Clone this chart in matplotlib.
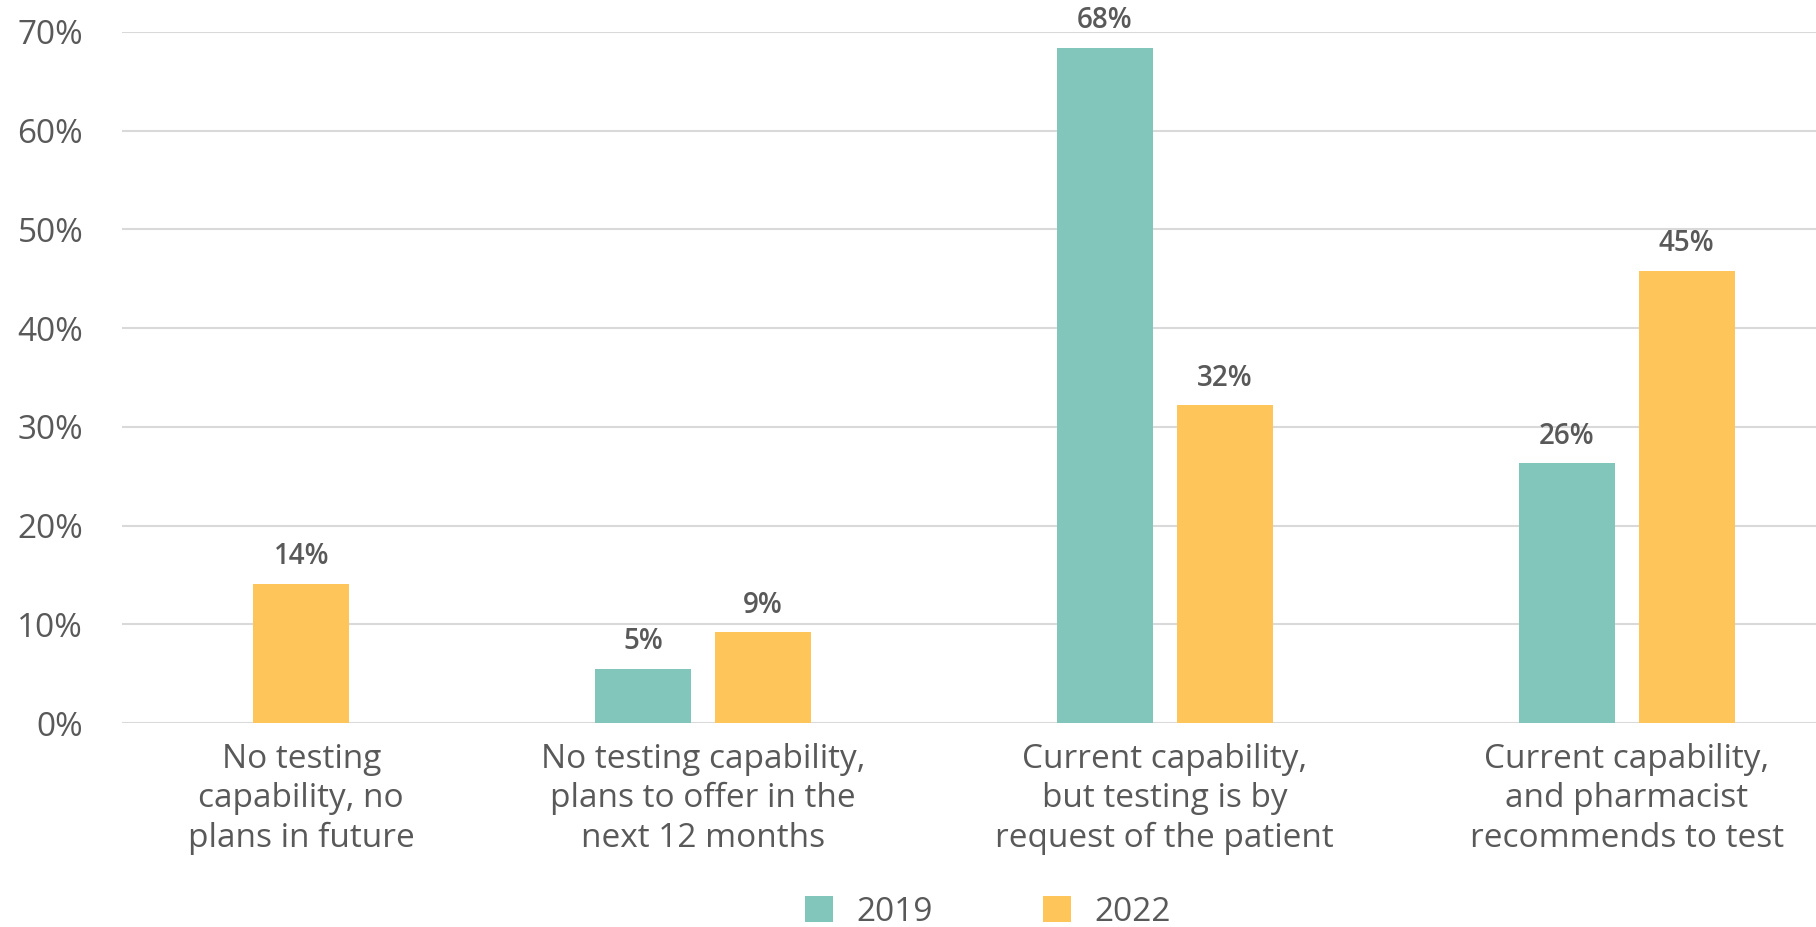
import numpy as np
import matplotlib.pyplot as plt

plt.rcParams['font.family'] = ['Open Sans', 'DejaVu Sans']

categories = [
    "No testing\ncapability, no\nplans in future",
    "No testing capability,\nplans to offer in the\nnext 12 months",
    "Current capability,\nbut testing is by\nrequest of the patient",
    "Current capability,\nand pharmacist\nrecommends to test",
]
series_names = ["2019", "2022"]
vals_2019 = [np.nan, 5.5, 68.4, 26.3]
vals_2022 = [14.1, 9.2, 32.2, 45.8]
labels_2019 = ["", "5%", "68%", "26%"]
labels_2022 = ["14%", "9%", "32%", "45%"]
yticks = [0, 10, 20, 30, 40, 50, 60, 70]

teal = "#82C5BB"
orange = "#FDC55A"
txt = "#595959"

fig = plt.figure(figsize=(18.16, 9.27), dpi=100)
ax = fig.add_axes([0.0672, 0.22, 0.9328, 0.7455])

x = np.arange(len(categories))
w = 0.208
off = 0.13

b1 = ax.bar(x - off, vals_2019, w, color=teal, label=series_names[0], zorder=3)
b2 = ax.bar(x + off, vals_2022, w, color=orange, label=series_names[1], zorder=3)

for bars, vals, labs in [(b1, vals_2019, labels_2019), (b2, vals_2022, labels_2022)]:
    for rect, v, lab in zip(bars, vals, labs):
        if np.isnan(v):
            continue
        ax.annotate(lab, (rect.get_x() + rect.get_width() / 2, v),
                    xytext=(0, 9), textcoords="offset points",
                    ha="center", va="bottom", fontsize=20, fontweight="semibold",
                    color=txt, annotation_clip=False)

ax.set_ylim(0, 70)
ax.set_xlim(-0.258, 3.41)
ax.set_yticks(yticks)
ax.set_yticklabels([f"{t}%" for t in yticks], fontsize=24, color=txt)
# first group has only the 2022 bar, its label sits under that bar
tick_pos = x.astype(float)
tick_pos[0] = x[0] + off
ax.set_xticks(tick_pos)
ax.set_xticklabels(categories, fontsize=24, color=txt, linespacing=1.26)
ax.tick_params(axis="y", length=0, pad=28)
ax.tick_params(axis="x", length=0, pad=14)
ax.grid(axis="y", color="#D9D9D9", linewidth=1.5, zorder=0)
for s in ax.spines.values():
    s.set_visible(False)

fig.legend(handles=[b1, b2], labels=series_names, loc="center",
           bbox_to_anchor=(0.544, 0.016), ncol=2, frameon=False,
           fontsize=24, labelcolor=txt, handlelength=0.84, handleheight=0.81,
           handletextpad=0.7, columnspacing=3.3)

fig.savefig("out.png", dpi=100)
